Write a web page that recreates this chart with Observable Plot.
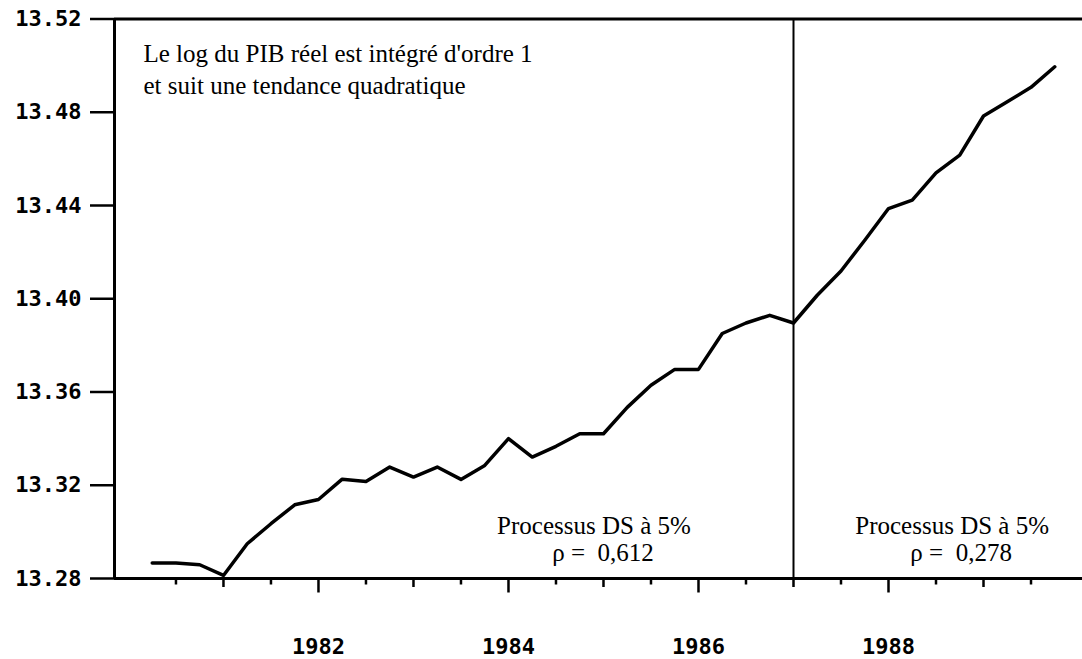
<!DOCTYPE html>
<html>
<head>
<meta charset="utf-8">
<script src="https://cdn.jsdelivr.net/npm/d3@7"></script>
<script src="https://cdn.jsdelivr.net/npm/@observablehq/plot@0.6"></script>
<style>
  html, body { margin: 0; padding: 0; background: #fff; }
  svg { display: block; }
</style>
</head>
<body>
<div id="chart"></div>
<script>
// Quarterly dates (decimal years) and log of real GDP
const quarters = [
  1980.25, 1980.5, 1980.75,
  1981.0, 1981.25, 1981.5, 1981.75,
  1982.0, 1982.25, 1982.5, 1982.75,
  1983.0, 1983.25, 1983.5, 1983.75,
  1984.0, 1984.25, 1984.5, 1984.75,
  1985.0, 1985.25, 1985.5, 1985.75,
  1986.0, 1986.25, 1986.5, 1986.75,
  1987.0, 1987.25, 1987.5, 1987.75,
  1988.0, 1988.25, 1988.5, 1988.75,
  1989.0, 1989.25, 1989.5, 1989.75
];
const logPIB = [
  13.2866, 13.2866, 13.2859,
  13.2813, 13.2949, 13.3035, 13.3116,
  13.3139, 13.3226, 13.3216, 13.3278,
  13.3235, 13.3278, 13.3225, 13.3285,
  13.3400, 13.3321, 13.3367, 13.3421,
  13.3421, 13.3534, 13.3629, 13.3697,
  13.3697, 13.3851, 13.3896, 13.3929,
  13.3896, 13.4015, 13.4119, 13.4251,
  13.4387, 13.4423, 13.4540, 13.4616,
  13.4784, 13.4845, 13.4907, 13.4995
];

// Axis ticks
const yTicks = [13.28, 13.32, 13.36, 13.40, 13.44, 13.48, 13.52];
const labelYears = [1982, 1984, 1986, 1988];
const oddYears = [1981, 1983, 1985, 1987, 1989];
const halfYears = [1980.5, 1981.5, 1982.5, 1983.5, 1984.5, 1985.5, 1986.5, 1987.5, 1988.5, 1989.5];

// Break date and annotations
const breakDate = [1987];
const noteTop = ["Le log du PIB réel est intégré d'ordre 1\net suit une tendance quadratique"];
const noteYears = [1984.9, 1988.67];
const noteLine1 = ["Processus DS à 5%", "Processus DS à 5%"];
const noteLine2 = ["ρ =  0,612", "ρ =  0,278"];

const xDomain = [1979.853, 1990.042];
const yDomain = [13.28, 13.52];

const series = quarters.map((t, i) => ({t, v: logPIB[i]}));
const notes = noteYears.map((x, i) => ({x, a: noteLine1[i], b: noteLine2[i]}));

const serif = "'Liberation Serif', 'Times New Roman', serif";

const chart = Plot.plot({
  width: 1082,
  height: 659,
  marginLeft: 114,
  marginRight: 0,
  marginTop: 18.5,
  marginBottom: 81,
  x: {domain: xDomain, label: null},
  y: {domain: yDomain, label: null},
  style: {
    fontFamily: "'DejaVu Sans Mono', monospace",
    fontSize: "22px",
    fontWeight: "bold",
    background: "#fff",
    color: "#000",
    overflow: "visible"
  },
  marks: [
    Plot.axisY(yTicks, {tickSize: 24, tickPadding: 9, tickFormat: d3.format(".2f"), strokeWidth: 2.5}),
    Plot.axisX(halfYears, {tickSize: 6.5, tickFormat: () => "", strokeWidth: 2.5}),
    Plot.axisX(oddYears, {tickSize: 9, tickFormat: () => "", strokeWidth: 2.5}),
    Plot.axisX(labelYears, {tickSize: 14.5, tickPadding: 45, tickFormat: d => String(d), strokeWidth: 2.5}),
    Plot.ruleY([yDomain[0], yDomain[1]], {strokeWidth: 3}),
    Plot.ruleX([xDomain[0]], {strokeWidth: 3}),
    Plot.ruleX(breakDate, {strokeWidth: 2}),
    Plot.line(series, {x: "t", y: "v", stroke: "#000", strokeWidth: 3.5, strokeLinejoin: "round"}),
    Plot.text(noteTop, {
      frameAnchor: "top-left", dx: 29, dy: 20, lineAnchor: "top", textAnchor: "start",
      lineHeight: 1.28, fontFamily: serif, fontSize: 25, fontWeight: "normal", fill: "#000"
    }),
    Plot.text(notes, {
      x: "x", text: "a", frameAnchor: "bottom", dy: -45, lineAnchor: "bottom",
      textAnchor: "middle", fontFamily: serif, fontSize: 25, fontWeight: "normal", fill: "#000"
    }),
    Plot.text(notes, {
      x: "x", text: "b", frameAnchor: "bottom", dy: -18, dx: 9, lineAnchor: "bottom",
      textAnchor: "middle", fontFamily: serif, fontSize: 25, fontWeight: "normal", fill: "#000"
    })
  ]
});

document.getElementById("chart").appendChild(chart);
</script>
</body>
</html>
